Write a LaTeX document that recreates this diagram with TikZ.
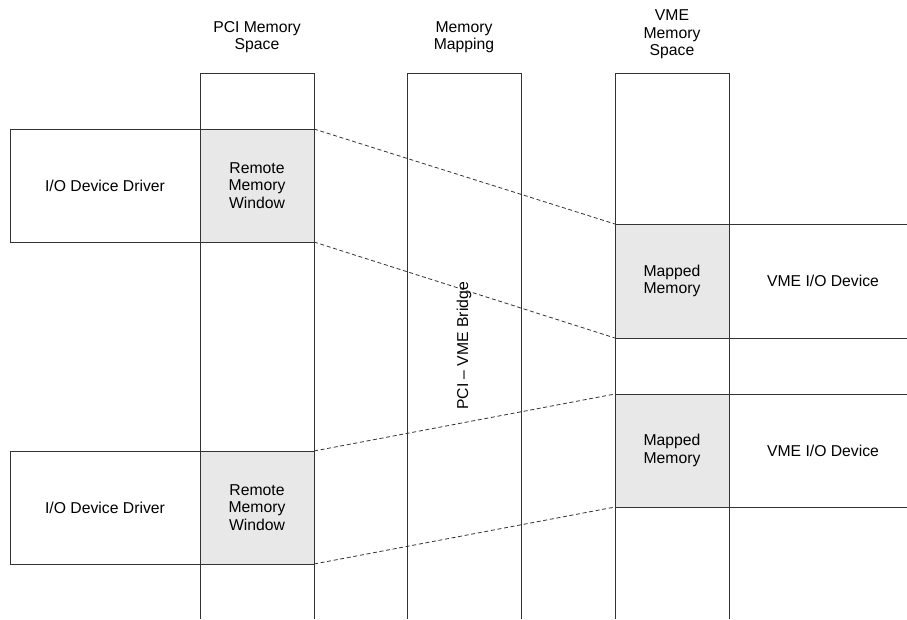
\documentclass[tikz,border=0pt]{standalone}
\usepackage{fontspec}
\setmainfont{Liberation Sans}
\usetikzlibrary{positioning,calc}
\definecolor{ln}{HTML}{333333}
\definecolor{winfill}{HTML}{E8E8E8}

\begin{document}
\begin{tikzpicture}[x=0.75pt, y=-0.75pt,
  font=\fontsize{11.8}{13}\selectfont,
  lane/.style={draw=ln, line width=0.6pt},
  hdr/.style={align=center},
  drv/.style={draw=ln, line width=0.6pt, outer sep=0pt, minimum width=142.5pt, minimum height=84.75pt, align=center},
  win/.style={draw=ln, fill=winfill, line width=0.6pt, outer sep=0pt, inner sep=0pt, minimum width=85.5pt, minimum height=84.75pt, align=center},
  maplink/.style={draw=ln, line width=0.6pt, dash pattern=on 3pt off 2pt}]

  \useasboundingbox (0,0) rectangle (907,619);

  % memory columns, open at the bottom
  \coordinate (pci) at (200,73);
  \coordinate (mm) at (407,73);
  \coordinate (vme) at (615,73);
  \coordinate (edge) at (907,619);
  \foreach \c in {pci,mm,vme}
    \draw[lane] (\c) ++(0,546) -- (\c) -- ++(114,0) -- ++(0,546);

  \node[hdr] (pcihdr) at ($(pci)+(57,-36)$) {PCI Memory\\Space};
  \node[hdr] (mmhdr) at ($(mm)+(57,-36)$) {Memory\\Mapping};
  \node[hdr] (vmehdr) at ($(vme)+(57,-38.5)$) {VME\\Memory\\Space};

  \node[rotate=90] (bridge) at (464,346) {PCI – VME Bridge};

  % PCI side
  \node[drv] (drv1) at (105,185.5) {I/O Device Driver};
  \node[win, right=0pt of drv1] (win1) {Remote\\Memory\\Window};
  \node[drv] (drv2) at (105,507.5) {I/O Device Driver};
  \node[win, right=0pt of drv2] (win2) {Remote\\Memory\\Window};

  % VME side
  \node[win, minimum height=85.5pt] (map1) at (672,281) {Mapped\\Memory};
  \node (dev1) at (823,281) {VME I/O Device};
  \draw[lane] (map1.north east) -- (map1.north east -| edge);
  \draw[lane] (map1.south east) -- (map1.south east -| edge);

  \node[win] (map2) at (672,450.5) {Mapped\\Memory};
  \node (dev2) at (823,450.5) {VME I/O Device};
  \draw[lane] (map2.north east) -- (map2.north east -| edge);
  \draw[lane] (map2.south east) -- (map2.south east -| edge);

  % window mapping
  \draw[maplink] (win1.north east) -- (map1.north west);
  \draw[maplink] (win1.south east) -- (map1.south west);
  \draw[maplink] (win2.north east) -- (map2.north west);
  \draw[maplink] (win2.south east) -- (map2.south west);

\end{tikzpicture}
\end{document}
